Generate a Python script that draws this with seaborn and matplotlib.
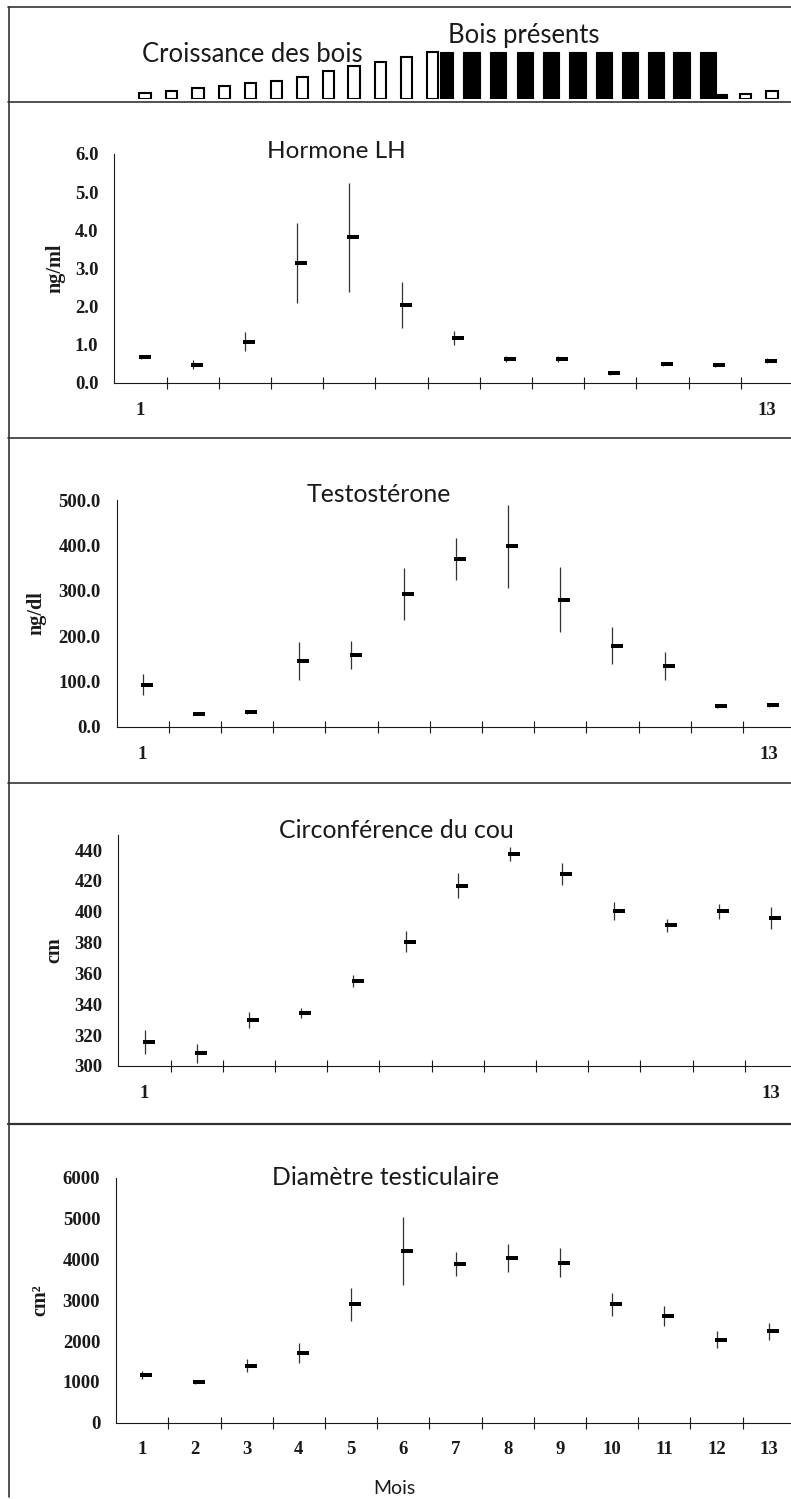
import numpy as np
import matplotlib
matplotlib.use("Agg")
import matplotlib.pyplot as plt
import seaborn as sns
from matplotlib import font_manager
from matplotlib.lines import Line2D

# ---------------- data ----------------
months = list(range(1, 14))

lh_mean = [0.67, 0.47, 1.08, 3.15, 3.81, 2.04, 1.18, 0.61, 0.62, 0.25, 0.49, 0.46, 0.58]
lh_err = [0.05, 0.12, 0.26, 1.05, 1.42, 0.60, 0.18, 0.08, 0.07, 0.04, 0.06, 0.05, 0.06]

testo_mean = [93, 29, 33, 145, 158, 293, 370, 398, 280, 179, 133, 46, 48]
testo_err = [23, 4, 4, 42, 30, 58, 46, 91, 72, 40, 31, 4, 4]

cou_mean = [315.6, 308.2, 329.8, 334.3, 355.3, 380.6, 416.9, 437.6, 424.4, 400.4, 391.2, 400.4, 395.7]
cou_err = [7.8, 6.0, 5.0, 3.5, 3.8, 7.0, 7.9, 4.5, 7.0, 6.0, 4.2, 4.9, 7.2]

testi_mean = [1168, 1004, 1396, 1700, 2900, 4205, 3894, 4041, 3918, 2900, 2613, 2033, 2239]
testi_err = [90, 50, 160, 250, 400, 830, 290, 340, 350, 280, 245, 205, 205]

lh_ticks = [0.0, 1.0, 2.0, 3.0, 4.0, 5.0, 6.0]
testo_ticks = [0.0, 100.0, 200.0, 300.0, 400.0, 500.0]
cou_ticks = [300, 320, 340, 360, 380, 400, 420, 440]
testi_ticks = [0, 1000, 2000, 3000, 4000, 5000, 6000]

# antler schematic (position in months, relative height, kind)
antler_pos = [1.09, 1.59, 2.10, 2.61, 3.10, 3.60, 4.10, 4.60, 5.08, 5.59, 6.09, 6.59,
              6.85, 7.33, 7.84, 8.36, 8.86, 9.36, 9.87, 10.37, 10.86, 11.35, 11.85,
              12.11, 12.57, 13.08]
antler_height = [6, 8.5, 11, 13.5, 16, 18.5, 22.5, 28.5, 33, 37.5, 42.5, 47.5,
                 47.5, 47.5, 47.5, 47.5, 47.5, 47.5, 47.5, 47.5, 47.5, 47.5, 47.5,
                 5, 5.5, 8.5]
antler_kind = ["open"] * 12 + ["joined"] + ["filled"] * 10 + ["foot"] + ["open"] * 2

# ---------------- style ----------------
sns.set_theme(style="white")
names = {f.name for f in font_manager.fontManager.ttflist}


def pick(cands):
    for c in cands:
        if c in names:
            return c
    return "DejaVu Sans"


SERIF = pick(["Liberation Serif", "DejaVu Serif"])
TITLE = pick(["Liberation Sans Narrow", "Lato", "Open Sans", "DejaVu Sans"])
plt.rcParams["font.family"] = [SERIF, "DejaVu Serif"]
plt.rcParams["font.weight"] = "bold"

W, H = 791, 1499
fig = plt.figure(figsize=(W / 100, H / 100), dpi=100)
fig.patch.set_facecolor("white")
INK = "#1a1a1a"


def ax_px(left, top, right, bottom):
    return fig.add_axes([left / W, 1 - bottom / H, (right - left) / W, (bottom - top) / H])


def fit_text(s, x_px, base_px, width_px, size0=20):
    t = fig.text(x_px / W, 1 - base_px / H, s, ha="left", va="baseline",
                 fontsize=size0, family=[TITLE, "DejaVu Sans"], weight="normal", color=INK)
    r = fig.canvas.get_renderer()
    w = t.get_window_extent(r).width
    t.set_fontsize(size0 * width_px / w)
    return t


PXM = 52.2
rect = [(-1, -0.4), (1, -0.4), (1, 0.4), (-1, 0.4)]

panels = [
    dict(mean=lh_mean, err=lh_err, ticks=lh_ticks, fmt="{:.1f}", ylim=(0, 6),
         ylabel="ng/ml", left=114.4, top=154, bottom=382.7, ylx=55,
         title="Hormone LH", tx=267, tb=158, tw=138, xl=[1, 13], pad=14),
    dict(mean=testo_mean, err=testo_err, ticks=testo_ticks, fmt="{:.1f}", ylim=(0, 500),
         ylabel="ng/dl", left=116.5, top=500, bottom=726.7, ylx=36,
         title="Testostérone", tx=307, tb=502, tw=145, xl=[1, 13], pad=14),
    dict(mean=cou_mean, err=cou_err, ticks=cou_ticks, fmt="{:d}", ylim=(300, 450),
         ylabel="cm", left=118.5, top=834.6, bottom=1066, ylx=54,
         title="Circonférence du cou", tx=279, tb=838, tw=236, xl=[1, 13], pad=14),
    dict(mean=testi_mean, err=testi_err, ticks=testi_ticks, fmt="{:d}", ylim=(0, 6000),
         ylabel="cm²", left=116.2, top=1177.7, bottom=1422.7, ylx=40,
         title="Diamètre testiculaire", tx=272, tb=1185, tw=228, xl=months, pad=13),
]

x = np.array(months, dtype=float)
for p in panels:
    ax = ax_px(p["left"], p["top"], W, p["bottom"])
    ax.set_facecolor("none")
    ax.errorbar(x, p["mean"], yerr=p["err"], fmt="none", ecolor="#333333",
                elinewidth=0.9, capsize=0, zorder=2)
    sns.scatterplot(x=x + 0.08, y=p["mean"], ax=ax, marker=rect, s=75,
                    color="black", linewidth=0, zorder=3, legend=False)
    ax.set_xlim(0.5, 0.5 + (W - p["left"]) / PXM)
    ax.set_ylim(*p["ylim"])
    for s in ["top", "right"]:
        ax.spines[s].set_visible(False)
    for s in ["left", "bottom"]:
        ax.spines[s].set_color(INK)
        ax.spines[s].set_linewidth(0.8)
    ax.set_yticks(p["ticks"])
    ax.set_yticklabels([p["fmt"].format(t) for t in p["ticks"]])
    ax.set_xticks(p["xl"])
    ax.set_xticklabels([str(v) for v in p["xl"]])
    ax.set_xticks(np.arange(1.5, 13.0, 1.0), minor=True)
    ax.tick_params(axis="y", which="major", direction="inout", length=8.6, width=0.8,
                   pad=7.2, labelsize=13.5, colors=INK)
    ax.tick_params(axis="x", which="major", direction="out", length=0,
                   pad=p["pad"], labelsize=13.5, colors=INK)
    ax.tick_params(axis="x", which="minor", direction="inout", length=8.6, width=0.8,
                   color=INK, bottom=True)
    ax.set_xlabel("")
    ax.set_ylabel("")
    fig.text(p["ylx"] / W, 1 - ((p["top"] + p["bottom"]) / 2) / H, p["ylabel"],
             rotation=90, ha="center", va="center", fontsize=14.5, weight="bold",
             color=INK)
    fit_text(p["title"], p["tx"], p["tb"], p["tw"])

# antler strip
axa = ax_px(114.4, 45, W, 99.3)
axa.set_xlim(0.5, 0.5 + (W - 114.4) / 52.27)
axa.set_ylim(0, 54.3)
axa.axis("off")
widths = {"open": 0.22, "joined": 0.25, "filled": 0.31, "foot": 0.22}
for pos, h, k in zip(antler_pos, antler_height, antler_kind):
    if k == "open":
        axa.bar(pos, h, width=widths[k], bottom=0, facecolor="white",
                edgecolor="black", linewidth=1.5)
    else:
        axa.bar(pos, h, width=widths[k], bottom=0, facecolor="black",
                edgecolor="black", linewidth=0.8)

fit_text("Croissance des bois", 142, 62, 221)
fit_text("Bois présents", 448, 43, 152)
fit_text("Mois", 373, 1494, 42)

# frame lines
def hline(y, x0=8, x1=W, lw=1.2):
    fig.add_artist(Line2D([x0 / W, x1 / W], [1 - y / H, 1 - y / H],
                          transform=fig.transFigure, color="#333333", lw=lw))


def vline(xp, y0, y1, lw=1.2):
    fig.add_artist(Line2D([xp / W, xp / W], [1 - y0 / H, 1 - y1 / H],
                          transform=fig.transFigure, color="#333333", lw=lw))


hline(7)
hline(101.7)
hline(438)
hline(782.7)
hline(1124, lw=1.6)
vline(9, 7, 1497)

fig.savefig("out.png", dpi=100, facecolor="white")
